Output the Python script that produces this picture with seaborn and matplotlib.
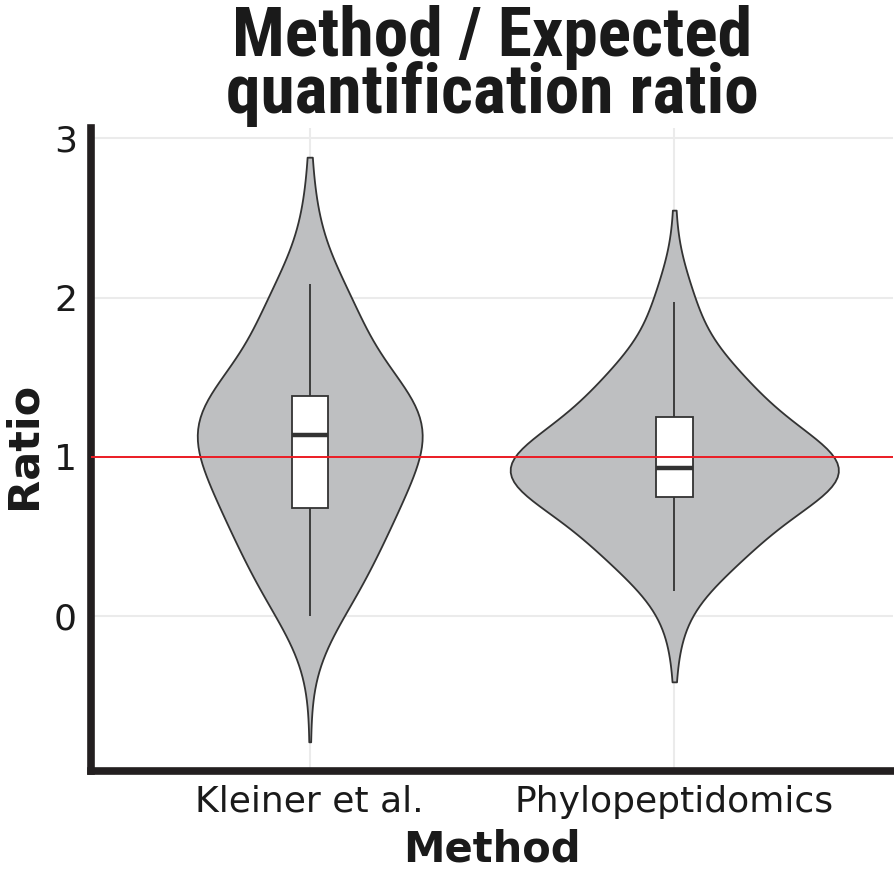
import numpy as np
import pandas as pd
import matplotlib
matplotlib.use("Agg")
import matplotlib.pyplot as plt
import seaborn as sns

# ---------------- data ----------------
methods = ["Kleiner et al.", "Phylopeptidomics"]

kleiner_values = [-0.786, 0.0, 0.05, 0.10, 0.15, 0.20, 0.25, 0.30, 0.35, 0.40, 0.45, 0.50,
                  0.55, 0.60, 0.65,
                  0.68, 0.72, 0.76, 0.80, 0.84, 0.88, 0.92, 0.96, 1.00, 1.04, 1.08,
                  1.14, 1.17, 1.20, 1.23, 1.26, 1.29, 1.32, 1.35,
                  1.38, 1.43, 1.49, 1.55, 1.61, 1.67, 1.73, 1.79, 1.85, 1.91, 1.97,
                  2.03, 2.085, 2.45, 2.55, 2.88]
kleiner_counts = [1, 14, 3, 4, 5, 6, 7, 7, 8, 8, 8, 8,
                  8, 7, 6,
                  9, 9, 9, 10, 10, 10, 10, 9, 8, 8, 8,
                  9, 10, 11, 12, 13, 14, 15, 16,
                  7, 6, 6, 6, 6, 7, 7, 7, 7, 8, 8,
                  9, 9, 5, 2, 1]

phylo_values = [-0.41, -0.10, -0.02, 0.1625, 0.22, 0.28, 0.34, 0.40, 0.45, 0.50, 0.55,
                0.60, 0.65, 0.70,
                0.75, 0.77, 0.79, 0.81, 0.83, 0.85, 0.87, 0.89, 0.91, 0.92,
                0.93, 0.96, 0.99, 1.02, 1.05, 1.08, 1.11, 1.14, 1.17, 1.21,
                1.25, 1.29, 1.33, 1.37, 1.41, 1.45, 1.49, 1.53, 1.57, 1.62, 1.67,
                1.72, 1.78, 1.84, 1.90, 1.95, 1.975, 2.05, 2.15, 2.25, 2.548]
phylo_counts = [1, 3, 2, 5, 6, 7, 9, 10, 10, 11, 11,
                12, 12, 1,
                10, 10, 10, 10, 10, 10, 10, 10, 10, 10,
                11, 11, 11, 10, 10, 10, 10, 9, 9, 9,
                6, 8, 8, 8, 8, 8, 7, 7, 6, 5, 4,
                3, 3, 3, 3, 3, 3, 3, 3, 1, 1]

y_ticks = [0, 1, 2, 3]
reference_ratio = 1.0

title_text = "Method / Expected\nquantification ratio"
x_label = "Method"
y_label = "Ratio"

# ---------------- table ----------------
ratios = np.concatenate([np.repeat(kleiner_values, kleiner_counts),
                         np.repeat(phylo_values, phylo_counts)])
groups = [methods[0]] * int(np.sum(kleiner_counts)) + [methods[1]] * int(np.sum(phylo_counts))
df = pd.DataFrame({"Method": groups, "Ratio": ratios})


def nrd0(kde):
    """Silverman's rule as used by R's bw.nrd0 (ggplot2 default)."""
    x = np.asarray(kde.dataset).ravel()
    sd = x.std(ddof=1)
    q75, q25 = np.percentile(x, [75, 25])
    h = 0.9 * min(sd, (q75 - q25) / 1.34) * len(x) ** (-0.2)
    return h / sd


# ---------------- style ----------------
sns.set_style("white")
plt.rcParams["font.family"] = ["DejaVu Sans"]
text_color = "#1A1A1A"
axis_color = "#231F20"

fig = plt.figure(figsize=(8.94, 8.71), dpi=100)
ax = fig.add_axes([91 / 894, 100 / 871, 802 / 894, 643 / 871])

sns.violinplot(data=df, x="Method", y="Ratio", order=methods, color="#BEBFC1",
               saturation=1, linecolor="#333333", linewidth=1.3, inner=None, cut=0,
               width=0.9, density_norm="area", bw_method=nrd0, bw_adjust=2.05, ax=ax)
sns.boxplot(data=df, x="Method", y="Ratio", order=methods, width=0.1, color="white",
            saturation=1, linecolor="#333333", linewidth=1.3, showfliers=False,
            showcaps=False, medianprops={"linewidth": 3.2}, ax=ax)

ax.axhline(reference_ratio, color="#EC1C24", lw=1.4, zorder=6)

ax.set_xlim(-0.6, 1.6)
ax.set_ylim(-0.969, 3.063)
ax.set_yticks(y_ticks)

ax.set_axisbelow(True)
ax.grid(True, color="#EBEBEB", lw=1.5)

for side in ["top", "right"]:
    ax.spines[side].set_visible(False)
for side in ["left", "bottom"]:
    ax.spines[side].set_linewidth(5.5)
    ax.spines[side].set_color(axis_color)
    ax.spines[side].set_capstyle("projecting")

ax.tick_params(axis="both", length=8, width=1.4, color="#333333", pad=2,
               labelsize=26, labelcolor=text_color)

ax.set_xlabel(x_label, fontsize=30, fontweight="bold", color=text_color, labelpad=7)
ax.set_ylabel(y_label, fontsize=31, fontweight="bold", color=text_color)
ax.yaxis.set_label_coords(-0.0574, 0.507)
ax.set_title(title_text, fontsize=50, fontweight="bold", color=text_color,
             family=["Roboto Condensed", "Liberation Sans"], linespacing=0.82, pad=11)

fig.savefig("out.png", dpi=100)
